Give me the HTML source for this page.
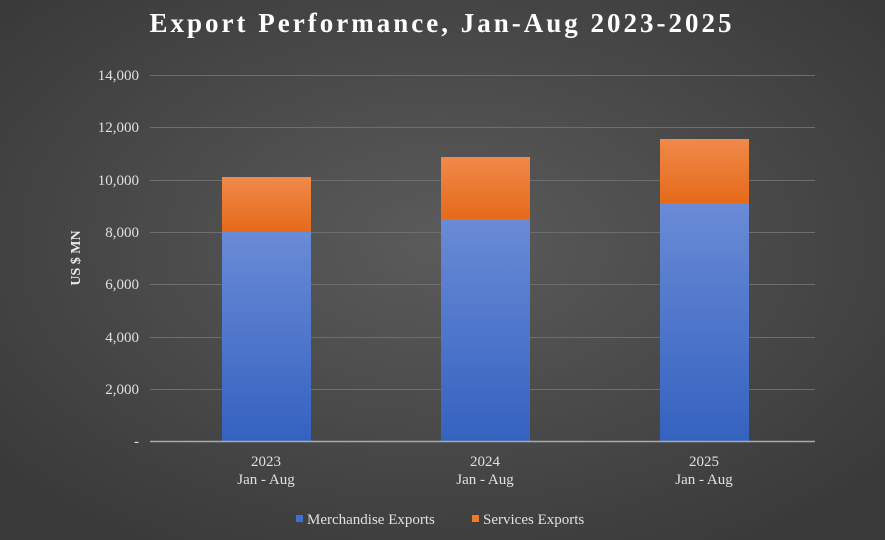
<!DOCTYPE html>
<html><head><style>
html,body{margin:0;padding:0;width:885px;height:540px;overflow:hidden}
</style></head><body>
<svg width="885" height="540" xmlns="http://www.w3.org/2000/svg" font-family="Liberation Serif, serif">
<defs>
<radialGradient id="bg" cx="50%" cy="45%" r="65%">
<stop offset="0" stop-color="#5b5b5b"/><stop offset="1" stop-color="#3a3a3a"/>
</radialGradient>
<linearGradient id="bl" x1="0" y1="0" x2="0" y2="1">
<stop offset="0" stop-color="#6a8bd6"/><stop offset="1" stop-color="#3462c0"/>
</linearGradient>
<linearGradient id="or" x1="0" y1="0" x2="0" y2="1">
<stop offset="0" stop-color="#f0894a"/><stop offset="1" stop-color="#e56a1a"/>
</linearGradient>
</defs>
<rect width="885" height="540" fill="url(#bg)"/>
<text x="442" y="32" text-anchor="middle" fill="#fff" font-size="27" font-weight="bold" letter-spacing="3">Export Performance, Jan-Aug  2023-2025</text>
<g stroke="#6e6e6e" stroke-width="1">
<line x1="150" x2="815" y1="75.5" y2="75.5"/>
<line x1="150" x2="815" y1="127.5" y2="127.5"/>
<line x1="150" x2="815" y1="180.5" y2="180.5"/>
<line x1="150" x2="815" y1="232.5" y2="232.5"/>
<line x1="150" x2="815" y1="284.5" y2="284.5"/>
<line x1="150" x2="815" y1="337.5" y2="337.5"/>
<line x1="150" x2="815" y1="389.5" y2="389.5"/>
</g>
<g fill="#e0e0e0" font-size="15" text-anchor="end">
<text x="139" y="80">14,000</text>
<text x="139" y="132">12,000</text>
<text x="139" y="185">10,000</text>
<text x="139" y="237">8,000</text>
<text x="139" y="289">6,000</text>
<text x="139" y="342">4,000</text>
<text x="139" y="394">2,000</text>
<text x="139" y="446">-</text>
</g>
<text transform="translate(80,258) rotate(-90)" text-anchor="middle" fill="#e8e8e8" font-size="14" font-weight="bold">US $ MN</text>
<rect x="222" y="232" width="89" height="209" fill="url(#bl)"/>
<rect x="222" y="177" width="89" height="55" fill="url(#or)"/>
<rect x="441" y="219" width="89" height="222" fill="url(#bl)"/>
<rect x="441" y="157" width="89" height="62" fill="url(#or)"/>
<rect x="660" y="203" width="89" height="238" fill="url(#bl)"/>
<rect x="660" y="139" width="89" height="64" fill="url(#or)"/>
<line x1="150" x2="815" y1="441.5" y2="441.5" stroke="#aaaaaa" stroke-width="1.5"/>
<g fill="#e0e0e0" font-size="15" text-anchor="middle">
<text x="266" y="466">2023</text><text x="266" y="484">Jan - Aug</text>
<text x="485" y="466">2024</text><text x="485" y="484">Jan - Aug</text>
<text x="704" y="466">2025</text><text x="704" y="484">Jan - Aug</text>
</g>
<rect x="296" y="515" width="7" height="7" fill="#3f6fd0"/>
<text x="307" y="524" fill="#e0e0e0" font-size="15">Merchandise Exports</text>
<rect x="472" y="515" width="7" height="7" fill="#f07a2a"/>
<text x="483" y="524" fill="#e0e0e0" font-size="15">Services Exports</text>
</svg>
</body></html>
